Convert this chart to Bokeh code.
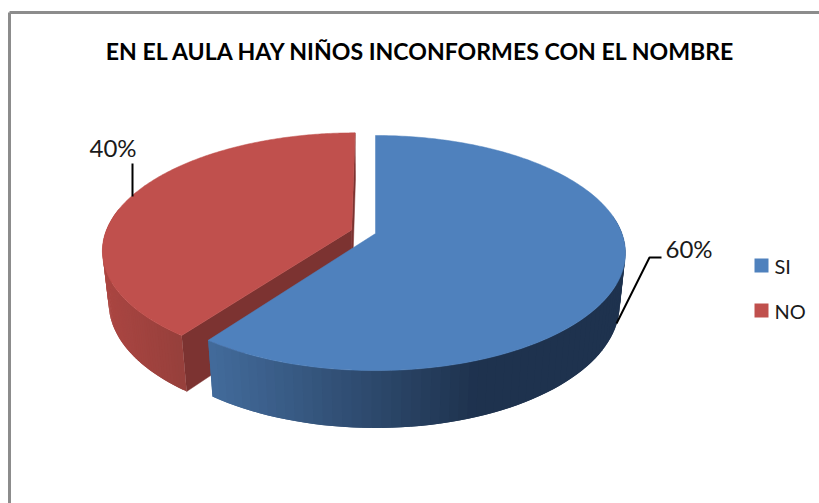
import numpy as np
from bokeh.plotting import figure
from bokeh.models import Range1d
from bokeh.core.properties import value
from bokeh.embed import file_html
from bokeh.resources import INLINE

TITLE = "EN EL AULA HAY NIÑOS INCONFORMES CON EL NOMBRE"
categories = ["SI", "NO"]
shares = [60, 40]
labels = ["60%", "40%"]
top_colors = ["#4f81bd", "#c0504d"]
FONT = "Lato"

W, H = 819, 503
p = figure(width=W, height=H, output_backend="svg", toolbar_location=None,
           x_range=Range1d(0, W), y_range=Range1d(H, 0),
           min_border=0, outline_line_color=None, background_fill_color="white",
           border_fill_color="white")
p.axis.visible = False
p.grid.visible = False

# perspective model of a tilted disc
CX, CY, A, B, K, C, M = 375.0, 233.0, 246.5, 114.3, 0.166, 52.4, 0.023
EXPLODE = 0.102


def project(theta, r, off, bottom=False):
    wx = r * np.sin(theta) + off[0]
    wy = r * np.cos(theta) + off[1]
    w = 1 + K * wy + (M if bottom else 0.0)
    h = C if bottom else 0.0
    return CX + A * wx / w, CY + (-B * wy + h) / w


def lerp_color(stops, t):
    pos = [s[0] for s in stops]
    rgb = [np.interp(t, pos, [s[1][i] for s in stops]) for i in range(3)]
    return "#%02x%02x%02x" % tuple(int(round(v)) for v in rgb)


fracs = np.cumsum([0] + shares) / sum(shares) * 2 * np.pi
blue_a, blue_b = fracs[0], fracs[1]
red_a, red_b = fracs[1], fracs[2]
mid_red = (red_a + red_b) / 2
red_off = (EXPLODE * np.sin(mid_red), EXPLODE * np.cos(mid_red))
blue_off = (0.0, 0.0)

BLUE_STOPS = [(212, (66, 106, 154)), (380, (43, 70, 104)), (470, (30, 50, 78)), (630, (30, 50, 78))]
RED_STOPS = [(100, (172, 70, 66)), (190, (148, 63, 59))]
RED_DARK = "#7c3331"


def side_strip(a, b, off, stops, n=70):
    # painter's overlap: every quad reaches over the next one, so no seams show
    th = np.linspace(a, b, n)
    xs, ys, cols = [], [], []
    for i in range(n - 1):
        t0, t1 = th[i], th[min(i + 2, n - 1)]
        x0, y0 = project(t0, 1, off)
        x1, y1 = project(t1, 1, off)
        x2, y2 = project(t1, 1, off, True)
        x3, y3 = project(t0, 1, off, True)
        xs.append([x0, x1, x2, x3])
        ys.append([y0, y1, y2, y3])
        cols.append(lerp_color(stops, (x0 + x1 + x2 + x3) / 4))
    p.patches(xs, ys, fill_color=cols, line_color=None)


def top_face(a, b, off, color):
    th = np.linspace(a, b, 240)
    x, y = project(th, 1, off)
    ax, ay = project(0.0, 0.0, off)
    p.patch(np.r_[ax, x], np.r_[ay, y], fill_color=color, line_color=color, line_width=0.5)


def radial_face(theta, off, color):
    ax0, ay0 = project(0.0, 0.0, off)
    ax1, ay1 = project(0.0, 0.0, off, True)
    ex0, ey0 = project(theta, 1, off)
    ex1, ey1 = project(theta, 1, off, True)
    p.patch([ax0, ex0, ex1, ax1], [ay0, ey0, ey1, ay1], fill_color=color, line_color=color, line_width=0.5)


# red slice: cut faces, rim, top
radial_face(red_b, red_off, RED_DARK)
radial_face(red_a, red_off, RED_DARK)
side_strip(red_a, red_a + (red_b - red_a) * 0.45, red_off, RED_STOPS)
top_face(red_a, red_b, red_off, top_colors[1])

# blue slice: rim, top
side_strip(np.pi * 0.45, blue_b, blue_off, BLUE_STOPS)
top_face(blue_a, blue_b, blue_off, top_colors[0])

# leader lines
p.line([616, 649, 661], [323, 257, 257], line_color="black", line_width=2)
p.line([132, 132], [163, 196], line_color="black", line_width=2)

# texts
p.text([421], [50], text=[TITLE], text_font=value(FONT), text_font_style="bold",
       text_font_size="23.1px", text_align="center", text_baseline="middle", text_color="black")
p.text([665, 89], [248, 147], text=labels, text_font=value(FONT), text_font_size="24px",
       text_align="left", text_baseline="middle", text_color="#1a1a1a")

# legend
p.scatter([761, 761], [265, 310], marker="square", size=14, color=top_colors, line_color=None)
p.text([774, 774], [265, 310], text=categories, text_font=value(FONT), text_font_size="20px",
       text_align="left", text_baseline="middle", text_color="#1a1a1a")

# chart-area frame
p.line([9, 9], [12, 503], line_color="#8c8c8c", line_width=3)
p.line([9, 819], [12, 12], line_color="#8c8c8c", line_width=3)

open("out.html", "w").write(file_html(p, INLINE))
